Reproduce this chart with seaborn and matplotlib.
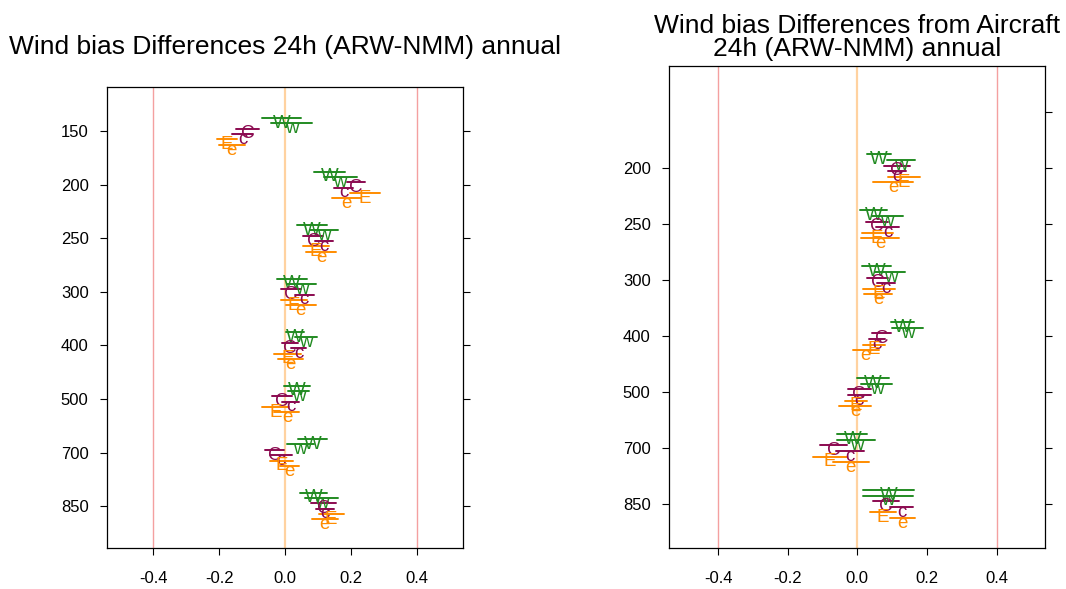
import numpy as np
import pandas as pd
import matplotlib
matplotlib.use("Agg")
import matplotlib.pyplot as plt
import matplotlib.transforms as mtransforms
import seaborn as sns

# ---------------- data ----------------
levels = ["150", "200", "250", "300", "400", "500", "700", "850"]
series = ["W", "w", "C", "c", "E", "e"]

# left panel: (ARW-NMM) all obs, centers and half-widths per series, per level
left_levels = ["150", "200", "250", "300", "400", "500", "700", "850"]
left_W = [-0.012, 0.134, 0.080, 0.021, 0.030, 0.035, 0.083, 0.085]
left_w = [0.020, 0.166, 0.117, 0.049, 0.062, 0.040, 0.045, 0.110]
left_C = [-0.115, 0.215, 0.085, 0.017, 0.014, -0.010, -0.033, 0.116]
left_c = [-0.130, 0.177, 0.117, 0.058, 0.040, 0.017, -0.012, 0.120]
left_E = [-0.178, 0.242, 0.093, 0.027, 0.007, -0.030, -0.011, 0.139]
left_e = [-0.162, 0.186, 0.109, 0.047, 0.017, 0.005, 0.013, 0.120]
left_W_err = [0.060, 0.048, 0.045, 0.046, 0.027, 0.040, 0.044, 0.040]
left_w_err = [0.062, 0.050, 0.043, 0.045, 0.033, 0.033, 0.041, 0.050]
left_C_err = [0.036, 0.028, 0.030, 0.030, 0.025, 0.029, 0.030, 0.038]
left_c_err = [0.033, 0.028, 0.028, 0.030, 0.024, 0.026, 0.033, 0.028]
left_E_err = [0.030, 0.046, 0.040, 0.040, 0.040, 0.040, 0.035, 0.038]
left_e_err = [0.040, 0.045, 0.045, 0.045, 0.038, 0.038, 0.030, 0.040]

# right panel: from Aircraft
right_levels = ["200", "250", "300", "400", "500", "700", "850"]
right_W = [0.062, 0.047, 0.055, 0.130, 0.044, -0.014, 0.090]
right_w = [0.126, 0.086, 0.095, 0.145, 0.055, -0.003, 0.088]
right_C = [0.114, 0.057, 0.058, 0.069, 0.005, -0.069, 0.082]
right_c = [0.114, 0.087, 0.082, 0.057, 0.006, -0.020, 0.127]
right_E = [0.134, 0.057, 0.062, 0.048, -0.004, -0.079, 0.073]
right_e = [0.103, 0.066, 0.060, 0.024, -0.006, -0.019, 0.130]
right_W_err = [0.035, 0.038, 0.043, 0.033, 0.046, 0.043, 0.073]
right_w_err = [0.041, 0.045, 0.043, 0.044, 0.045, 0.055, 0.072]
right_C_err = [0.036, 0.032, 0.030, 0.027, 0.033, 0.038, 0.038]
right_c_err = [0.027, 0.033, 0.026, 0.023, 0.033, 0.040, 0.033]
right_E_err = [0.045, 0.045, 0.045, 0.031, 0.032, 0.048, 0.037]
right_e_err = [0.058, 0.055, 0.040, 0.037, 0.046, 0.052, 0.037]

x_ticks = [-0.4, -0.2, 0.0, 0.2, 0.4]
titles = ["Wind bias Differences 24h (ARW-NMM) annual",
          "Wind bias Differences from Aircraft\n24h (ARW-NMM) annual"]

# ---------------- style ----------------
GREEN = "#228B22"
PURPLE = "#8B0A50"
ORANGE = "#FF8C00"
palette = {"W": GREEN, "w": GREEN, "C": PURPLE, "c": PURPLE, "E": ORANGE, "e": ORANGE}
offsets = dict(zip(series, [-0.25, -0.15, -0.05, 0.05, 0.15, 0.25]))
LETTER_FS = 13.5

sns.set_theme(style="ticks")
plt.rcParams["font.family"] = ["Liberation Sans", "DejaVu Sans"]
plt.rcParams["text.color"] = "black"


def build(lv, vals, errs):
    rows = []
    for s in series:
        for i, lev in enumerate(lv):
            rows.append(dict(series=s, level=lev, x=vals[s][i], err=errs[s][i],
                             y=levels.index(lev) + offsets[s]))
    return pd.DataFrame(rows)


left_df = build(left_levels,
                dict(W=left_W, w=left_w, C=left_C, c=left_c, E=left_E, e=left_e),
                dict(W=left_W_err, w=left_w_err, C=left_C_err, c=left_c_err,
                     E=left_E_err, e=left_e_err))
right_df = build(right_levels,
                 dict(W=right_W, w=right_w, C=right_C, c=right_c, E=right_E, e=right_e),
                 dict(W=right_W_err, w=right_w_err, C=right_C_err, c=right_c_err,
                      E=right_E_err, e=right_e_err))

fig = plt.figure(figsize=(10.66, 5.89), dpi=100)
axL = fig.add_axes([0.1007, 0.0691, 0.4346 - 0.1007, 0.8523 - 0.0691])
axR = fig.add_axes([0.6279, 0.0691, 0.9806 - 0.6279, 0.8879 - 0.0691])


def draw(ax, df, labelled_levels, title, title_pad):
    ylim = (7.79, -0.83)
    ax.set_xlim(-0.54, 0.54)
    ax.set_ylim(*ylim)
    for xv, col, lw in [(-0.4, "#F4A0A0", 1.0), (0.4, "#F4A0A0", 1.0), (0.0, "#FFD2A0", 1.6)]:
        ax.axvline(xv, color=col, lw=lw, zorder=0)
    # error segments
    seg = pd.concat([
        df.assign(x=df["x"] - df["err"], seg=np.arange(len(df))),
        df.assign(x=df["x"] + df["err"], seg=np.arange(len(df))),
    ])
    sns.lineplot(data=seg, x="x", y="y", hue="series", units="seg", estimator=None,
                 sort=False, palette=palette, legend=False, ax=ax, lw=1.4, orient="y")
    # letters sit with their baseline a little below the bar
    trans = mtransforms.offset_copy(ax.transData, fig=ax.figure,
                                    y=-0.52 * LETTER_FS, units="points")
    for _, r in df.iterrows():
        ax.text(r["x"], r["y"], r["series"], color=palette[r["series"]],
                fontsize=LETTER_FS, ha="center", va="baseline", zorder=3,
                transform=trans)
    ax.set_xticks(x_ticks)
    ax.set_xticklabels([f"{v:.1f}" for v in x_ticks])
    ax.set_yticks([levels.index(l) for l in labelled_levels])
    ax.set_yticklabels(labelled_levels)
    ax.set_xlabel("")
    ax.set_ylabel("")
    ax.tick_params(axis="x", direction="out", length=5, width=0.8, labelsize=12,
                   pad=11.5, colors="black")
    ax.tick_params(axis="y", direction="out", length=5, width=0.8, labelsize=12,
                   pad=8.5, colors="black")
    for sp in ax.spines.values():
        sp.set_color("black")
        sp.set_linewidth(0.9)
    tw = ax.twinx()
    tw.set_ylim(*ylim)
    tw.set_yticks(range(len(levels)))
    tw.set_yticklabels([])
    tw.tick_params(axis="y", direction="out", length=5, width=0.8, colors="black")
    for sp in tw.spines.values():
        sp.set_visible(False)
    ax.set_title(title, fontsize=19, pad=title_pad, linespacing=0.95, color="black")


draw(axL, left_df, left_levels, titles[0], 24)
draw(axR, right_df, right_levels, titles[1], 7)

fig.savefig("out.png", dpi=100)
